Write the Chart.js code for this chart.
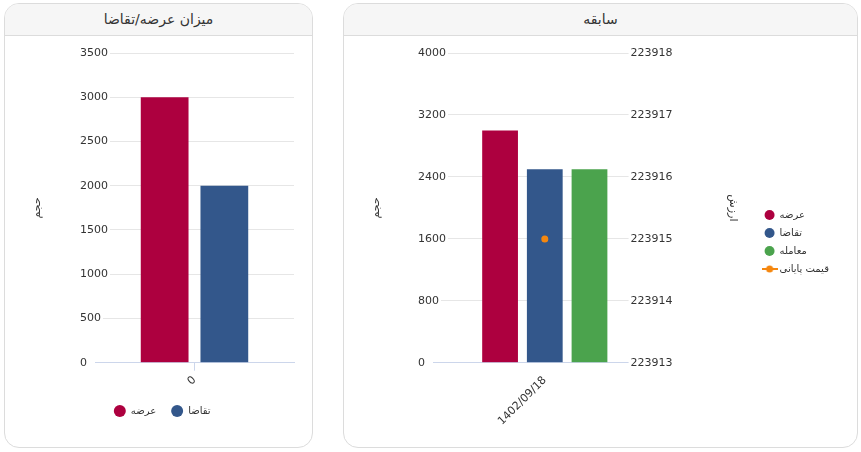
<!DOCTYPE html>
<html lang="fa">
<head>
<meta charset="utf-8">
<script src="https://cdn.jsdelivr.net/npm/chart.js@4.4.0/dist/chart.umd.min.js"></script>
<style>
    body { margin: 0; background: #fff; font-family: "DejaVu Sans", sans-serif; }
    .card { position: absolute; top: 3px; height: 445px; border: 1px solid #dcdcdc; border-radius: 15px; background: #fff; overflow: hidden; box-sizing: border-box; }
    .card-header { height: 31px; line-height: 30px; background: #f6f6f6; border-bottom: 1px solid #dcdcdc; text-align: center; font-size: 14px; color: #333; direction: rtl; }
    .chart-box { position: absolute; left: 0; top: 32px; right: 0; bottom: 0; }
</style>
</head>
<body>
<div class="card" style="left:4px; width:309px;">
    <div class="card-header">میزان عرضه/تقاضا</div>
    <div class="chart-box"><canvas id="chartSupplyDemand"></canvas></div>
</div>
<div class="card" style="left:343px; width:515px;">
    <div class="card-header">سابقه</div>
    <div class="chart-box"><canvas id="chartHistory"></canvas></div>
</div>
<script>
// داده‌های نمودار سمت چپ
const leftCategories = ['0'];
const leftSupply = [3000];
const leftDemand = [2000];
const leftVolumeMax = 3500;
const leftVolumeStep = 500;

// داده‌های نمودار سابقه
const historyDates = ['1402/09/18'];
const historySupply = [3000];
const historyDemand = [2500];
const historyTrade = [2500];
const historyClosePrice = [223915];
const historyVolumeMax = 4000;
const historyVolumeStep = 800;
const historyPriceMin = 223913;
const historyPriceMax = 223918;

const seriesNames = ['عرضه', 'تقاضا', 'معامله', 'قیمت پایانی'];
const seriesColors = ['#ad003f', '#33578b', '#4ba34d', '#f5870f'];

const FONT = '"DejaVu Sans", sans-serif';
const TEXT = '#333';
Chart.defaults.font.family = FONT;
Chart.defaults.color = TEXT;
Chart.defaults.maintainAspectRatio = false;
Chart.defaults.animation = false;

// محور حجم: برچسب‌ها روی ابتدای خطوط شبکه می‌نشینند
function volumeAxis(max, step, axisWidth) {
    return {
        position: 'left',
        min: 0, max: max,
        border: { display: false },
        grid: { color: '#e6e6e6', drawTicks: false },
        ticks: {
            stepSize: step, mirror: true, padding: -15, z: -1,
            font: { size: 11 }, color: TEXT,
            showLabelBackdrop: true, backdropColor: '#fff',
            backdropPadding: { top: 0, bottom: 0, left: 0, right: 2 },
            callback: v => String(v)
        },
        title: { display: true, text: 'حجم', font: { size: 11 }, color: TEXT, padding: 0 },
        afterFit: scale => { scale.width = axisWidth; }
    };
}

// نمودار میزان عرضه/تقاضا
new Chart(document.getElementById('chartSupplyDemand'), {
    type: 'bar',
    data: {
        labels: leftCategories,
        datasets: [
            { label: seriesNames[0], data: leftSupply, backgroundColor: seriesColors[0] },
            { label: seriesNames[1], data: leftDemand, backgroundColor: seriesColors[1] }
        ]
    },
    options: {
        categoryPercentage: 0.6,
        barPercentage: 0.8,
        layout: { padding: { left: 25.4, right: 18, top: 17, bottom: 21 } },
        plugins: {
            legend: {
                position: 'bottom',
                labels: { usePointStyle: true, pointStyle: 'circle', pointStyleWidth: 12, boxHeight: 8.5, font: { size: 10 }, color: TEXT, padding: 15 }
            },
            tooltip: { enabled: false }
        },
        scales: {
            x: {
                border: { color: '#ccd6eb' },
                grid: { display: true, offset: false, drawOnChartArea: false, color: '#ccd6eb', tickLength: 8 },
                ticks: { minRotation: 45, maxRotation: 45, padding: 3, font: { size: 11 }, color: TEXT }
            },
            y: volumeAxis(leftVolumeMax, leftVolumeStep, 64.6)
        }
    }
});

// نماد خط و نقطه برای راهنمای قیمت پایانی
const lineIcon = document.createElement('canvas');
lineIcon.width = 16;
lineIcon.height = 8;
const ic = lineIcon.getContext('2d');
ic.strokeStyle = seriesColors[3];
ic.lineWidth = 2;
ic.beginPath(); ic.moveTo(0, 4); ic.lineTo(16, 4); ic.stroke();
ic.fillStyle = seriesColors[3];
ic.beginPath(); ic.arc(8, 4, 3.5, 0, Math.PI * 2); ic.fill();

// نمودار سابقه
new Chart(document.getElementById('chartHistory'), {
    type: 'bar',
    data: {
        labels: historyDates,
        datasets: [
            { label: seriesNames[0], data: historySupply, backgroundColor: seriesColors[0], yAxisID: 'y', order: 1 },
            { label: seriesNames[1], data: historyDemand, backgroundColor: seriesColors[1], yAxisID: 'y', order: 1 },
            { label: seriesNames[2], data: historyTrade, backgroundColor: seriesColors[2], yAxisID: 'y', order: 1 },
            {
                type: 'line', label: seriesNames[3], data: historyClosePrice, yAxisID: 'y1', order: 0,
                borderColor: seriesColors[3], backgroundColor: seriesColors[3], borderWidth: 2,
                pointRadius: 3.5, pointBorderWidth: 0
            }
        ]
    },
    options: {
        categoryPercentage: 0.6,
        barPercentage: 0.8,
        layout: { padding: { left: 25.4, right: 23, top: 17, bottom: 16 } },
        plugins: {
            legend: {
                position: 'right',
                labels: {
                    usePointStyle: true, pointStyleWidth: 10, boxHeight: 7.07, font: { size: 10 }, color: TEXT, padding: 8,
                    sort: (a, b) => a.datasetIndex - b.datasetIndex,
                    generateLabels: chart => {
                        const items = Chart.defaults.plugins.legend.labels.generateLabels(chart);
                        items.forEach(item => { item.pointStyle = item.datasetIndex === 3 ? lineIcon : 'circle'; });
                        return items;
                    }
                }
            },
            tooltip: { enabled: false }
        },
        scales: {
            x: {
                border: { color: '#ccd6eb' },
                grid: { display: false },
                ticks: { minRotation: 45, maxRotation: 45, padding: 3, font: { size: 11 }, color: TEXT }
            },
            y: volumeAxis(historyVolumeMax, historyVolumeStep, 63.6),
            y1: {
                position: 'right',
                min: historyPriceMin, max: historyPriceMax,
                border: { display: false },
                grid: { display: false },
                ticks: {
                    stepSize: 1, mirror: true, padding: 16, z: 1,
                    font: { size: 11 }, color: TEXT,
                    showLabelBackdrop: true, backdropColor: '#fff',
                    backdropPadding: { top: 0, bottom: 0, left: 2, right: 0 },
                    callback: v => String(v)
                },
                title: { display: true, text: 'ارزش', font: { size: 11 }, color: TEXT, padding: { top: 17.4, bottom: 0 } },
                afterFit: scale => {
                    scale.width = 100;
                    // فاصلهٔ برچسب‌ها نباید بالای ناحیهٔ نمودار را پایین بکشد
                    scale.paddingTop = 7;
                    scale.paddingBottom = 7;
                }
            }
        }
    }
});
</script>
</body>
</html>
